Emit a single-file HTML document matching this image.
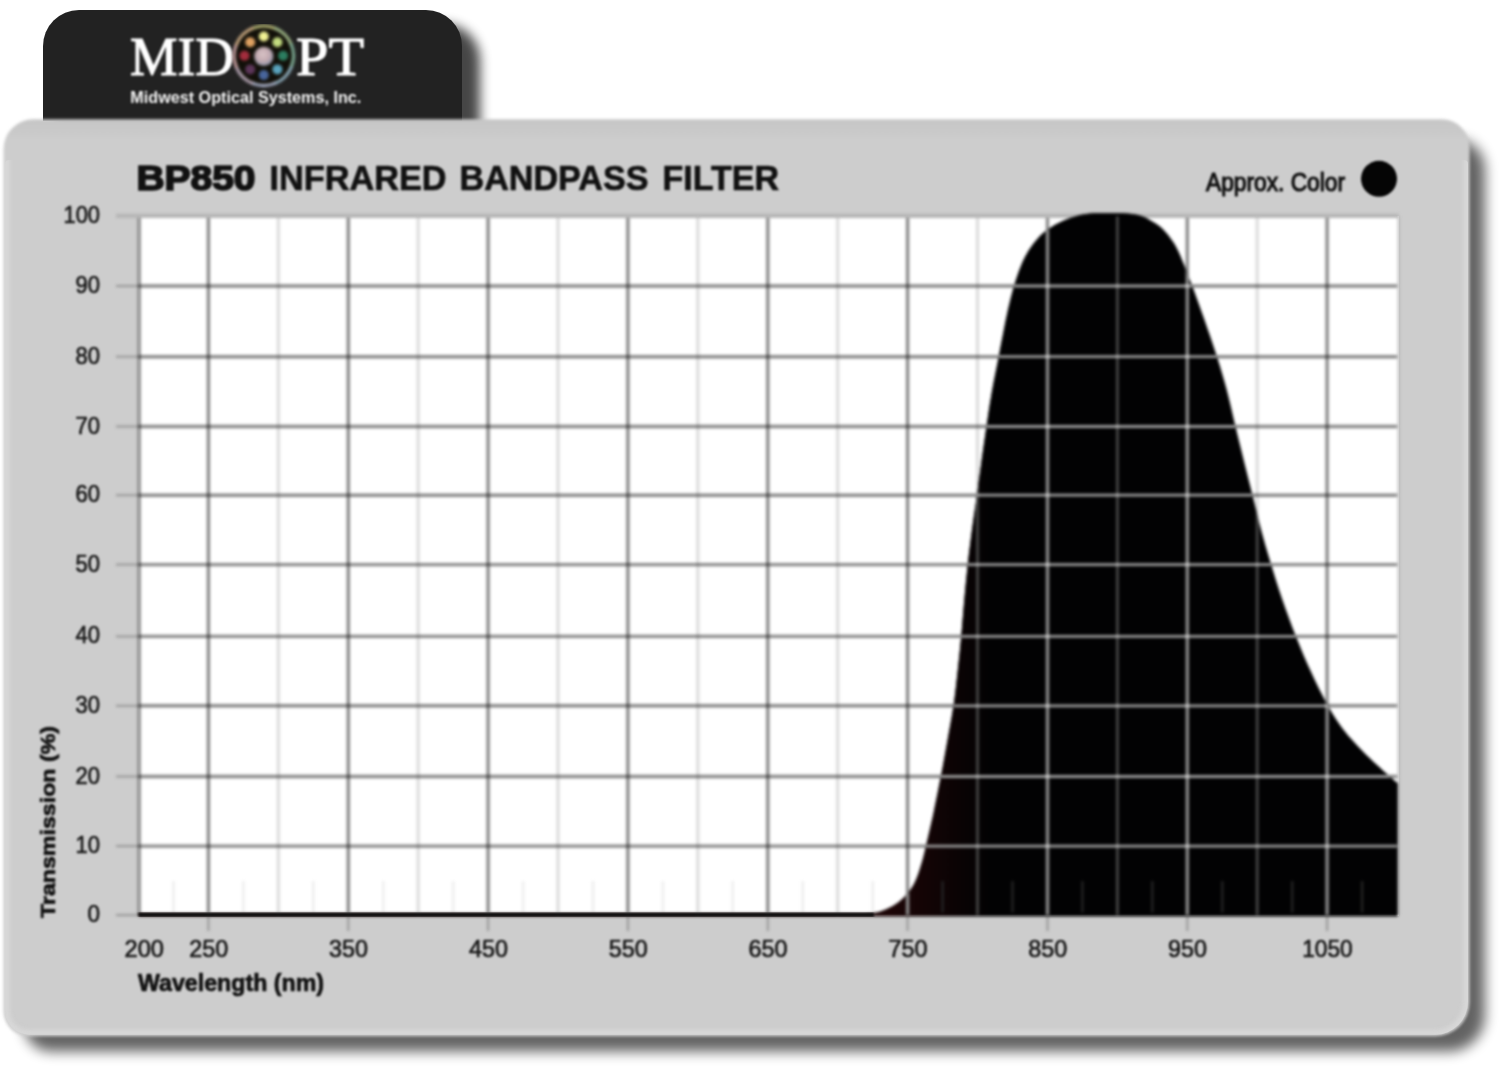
<!DOCTYPE html>
<html>
<head>
<meta charset="utf-8">
<title>BP850 Infrared Bandpass Filter</title>
<style>
  html, body { margin: 0; padding: 0; background: #ffffff; }
  body { width: 1500px; height: 1078px; overflow: hidden; position: relative;
         font-family: "Liberation Sans", sans-serif; }
  svg { position: absolute; left: 0; top: 0; display: block; }
  text { font-family: "Liberation Sans", sans-serif; }
  .serif { font-family: "Liberation Serif", serif; }
  .mul line { mix-blend-mode: multiply; }
  .scr line { mix-blend-mode: screen; }
</style>
</head>
<body>
<svg width="1500" height="1078" viewBox="0 0 1500 1078">
  <defs>
    <filter id="shadowCard" color-interpolation-filters="sRGB" x="-5%" y="-5%" width="110%" height="112%">
      <feGaussianBlur stdDeviation="6.5"/>
    </filter>
    <filter id="shadowTab" color-interpolation-filters="sRGB" x="-10%" y="-20%" width="120%" height="140%">
      <feGaussianBlur stdDeviation="6"/>
    </filter>
    <filter id="soft" color-interpolation-filters="sRGB" x="-2%" y="-2%" width="104%" height="104%">
      <feGaussianBlur stdDeviation="0.8"/>
    </filter>
    <filter id="soft2" color-interpolation-filters="sRGB" x="-5%" y="-20%" width="110%" height="140%">
      <feGaussianBlur stdDeviation="1.0"/>
    </filter>
    <filter id="softCard" color-interpolation-filters="sRGB" x="-2%" y="-2%" width="104%" height="104%">
      <feGaussianBlur stdDeviation="1.4"/>
    </filter>
    <linearGradient id="cardG" gradientUnits="userSpaceOnUse" x1="0" y1="119" x2="0" y2="140">
      <stop offset="0" stop-color="#c6c6c6"/>
      <stop offset="0.6" stop-color="#c9c9c9"/>
      <stop offset="1" stop-color="#cdcdcd"/>
    </linearGradient>
    <filter id="blurBevel" color-interpolation-filters="sRGB" x="-2%" y="-2%" width="104%" height="104%">
      <feGaussianBlur stdDeviation="2"/>
    </filter>
    <clipPath id="cardInner"><path d="M9.0,160.0 L1464.0,160.0 A4.0,4.0 0 0 1 1468.0,164.0 L1468.0,1001.7 A33.0,33.0 0 0 1 1435.0,1034.7 L29.0,1034.7 A24.0,24.0 0 0 1 5.0,1010.7 L5.0,164.0 A4.0,4.0 0 0 1 9.0,160.0 Z"/></clipPath>
    <filter id="softGrid" color-interpolation-filters="sRGB" x="-2%" y="-2%" width="104%" height="104%">
      <feGaussianBlur stdDeviation="1.35"/>
    </filter>
    <filter id="soft3" color-interpolation-filters="sRGB" x="-20%" y="-20%" width="140%" height="140%">
      <feGaussianBlur stdDeviation="1.2"/>
    </filter>
    <clipPath id="plotClip"><rect x="138.5" y="208" width="1259.1599999999999" height="708.6"/></clipPath>
    <clipPath id="curveClip"><path d="M138.5,916.6 L138.5,913.2 L862.0,913.4 C863.3,913.4 867.5,913.4 870.0,913.2 C872.5,913.0 874.6,912.9 877.0,912.4 C879.4,911.9 881.6,911.2 884.5,910.0 C887.4,908.8 891.4,907.0 894.5,905.0 C897.6,903.0 900.4,901.0 903.4,898.0 C906.4,895.0 909.9,890.8 912.3,887.0 C914.7,883.2 916.2,879.5 917.9,875.0 C919.6,870.5 921.2,864.8 922.6,860.0 C924.0,855.2 924.8,851.2 926.0,846.0 C927.2,840.8 928.7,834.8 930.0,829.0 C931.3,823.2 932.2,819.7 934.0,811.0 C935.8,802.3 938.5,788.8 940.8,777.0 C943.1,765.2 945.5,751.8 947.6,740.0 C949.7,728.2 951.8,717.3 953.5,706.0 C955.2,694.7 956.3,683.5 957.6,672.0 C958.9,660.5 960.1,649.0 961.2,637.0 C962.3,625.0 963.2,612.2 964.3,600.0 C965.4,587.8 966.5,575.7 967.8,564.0 C969.1,552.3 970.5,541.5 972.0,530.0 C973.5,518.5 975.4,506.7 977.0,495.0 C978.6,483.3 980.1,471.4 981.7,460.0 C983.3,448.6 984.9,437.3 986.5,426.5 C988.1,415.7 989.4,406.6 991.4,395.0 C993.4,383.4 996.7,367.4 998.7,357.0 C1000.7,346.6 1001.8,340.4 1003.4,332.4 C1005.0,324.4 1006.4,316.7 1008.2,309.0 C1010.0,301.3 1012.0,293.1 1014.1,286.0 C1016.2,278.9 1018.5,272.1 1020.9,266.2 C1023.3,260.3 1026.0,255.1 1028.7,250.6 C1031.5,246.1 1034.2,242.5 1037.4,238.9 C1040.6,235.3 1044.0,232.1 1048.1,229.2 C1052.2,226.3 1057.2,223.5 1061.8,221.4 C1066.3,219.3 1071.0,217.8 1075.4,216.5 C1079.8,215.2 1083.9,214.4 1088.0,213.8 C1092.1,213.2 1095.5,213.3 1100.0,213.2 C1104.5,213.1 1110.0,213.1 1115.0,213.2 C1120.0,213.3 1125.4,213.2 1130.0,213.8 C1134.6,214.4 1138.7,215.2 1142.4,216.5 C1146.1,217.8 1148.6,219.4 1152.0,221.5 C1155.4,223.6 1159.2,225.6 1162.8,229.2 C1166.4,232.8 1170.4,237.9 1173.5,242.8 C1176.6,247.7 1178.2,251.1 1181.3,258.4 C1184.4,265.7 1188.5,276.4 1192.3,286.5 C1196.1,296.6 1199.9,307.3 1204.0,319.0 C1208.1,330.7 1213.0,345.0 1216.8,356.8 C1220.6,368.6 1223.5,378.4 1226.6,390.0 C1229.7,401.6 1232.5,414.8 1235.3,426.5 C1238.1,438.2 1240.7,448.6 1243.5,460.0 C1246.3,471.4 1249.4,483.3 1252.3,495.0 C1255.2,506.7 1257.9,518.5 1261.0,530.0 C1264.1,541.5 1267.2,552.3 1270.8,564.0 C1274.3,575.7 1278.2,588.0 1282.3,600.0 C1286.4,612.0 1291.0,624.3 1295.6,636.0 C1300.2,647.7 1304.6,658.3 1310.0,670.0 C1315.4,681.7 1322.3,696.0 1327.9,706.0 C1333.5,716.0 1337.9,722.7 1343.5,730.0 C1349.1,737.3 1355.8,744.2 1361.3,750.0 C1366.8,755.8 1372.2,760.7 1376.8,765.0 C1381.4,769.3 1385.5,772.9 1389.0,776.0 C1392.5,779.1 1396.2,782.2 1397.7,783.5 L1397.7,916.6 Z"/></clipPath>
    <linearGradient id="redTint" gradientUnits="userSpaceOnUse" x1="890" y1="0" x2="990" y2="0">
      <stop offset="0" stop-color="#1c0506"/>
      <stop offset="1" stop-color="#020203"/>
    </linearGradient>
    <linearGradient id="cardEdgeL" x1="0" y1="0" x2="1" y2="0">
      <stop offset="0" stop-color="#dcdcdc"/>
      <stop offset="1" stop-color="#cccccc"/>
    </linearGradient>
    <radialGradient id="hub" cx="0.45" cy="0.4" r="0.6">
      <stop offset="0" stop-color="#d9c4c6"/>
      <stop offset="0.6" stop-color="#c2a9b0"/>
      <stop offset="1" stop-color="#8f96ad"/>
    </radialGradient>
    <linearGradient id="ring" x1="0" y1="0" x2="1" y2="1">
      <stop offset="0" stop-color="#d9b48e"/>
      <stop offset="0.3" stop-color="#c4c486"/>
      <stop offset="0.55" stop-color="#a6c4ae"/>
      <stop offset="0.8" stop-color="#b4c0d6"/>
      <stop offset="1" stop-color="#cbb2be"/>
    </linearGradient>
  </defs>

  <!-- logo tab shadow + tab -->
  <path d="M54,132 L54,60 A36,36 0 0 1 90,24 L444,24 A36,36 0 0 1 480,60 L480,132 Z" fill="#000" opacity="0.72" filter="url(#shadowTab)"/>
  <path d="M43,121 L43,46 A36,36 0 0 1 79,10 L426,10 A36,36 0 0 1 462,46 L462,121 Z" fill="#222222"/>

  <!-- card shadow + card -->
  <path d="M54.0,139.0 L1455.0,139.0 A30.0,30.0 0 0 1 1485.0,169.0 L1485.0,1015.5 A36.0,36.0 0 0 1 1449.0,1051.5 L51.0,1051.5 A27.0,27.0 0 0 1 24.0,1024.5 L24.0,169.0 A30.0,30.0 0 0 1 54.0,139.0 Z" fill="#000" opacity="0.61" filter="url(#shadowCard)"/>
    <path d="M33.5,119.2 L1441.5,119.2 A28.0,28.0 0 0 1 1469.5,147.2 L1469.5,1002.2 A34.0,34.0 0 0 1 1435.5,1036.2 L28.5,1036.2 A25.0,25.0 0 0 1 3.5,1011.2 L3.5,149.2 A30.0,30.0 0 0 1 33.5,119.2 Z" fill="url(#cardG)" filter="url(#softCard)"/>
  <g clip-path="url(#cardInner)">
    <path d="M33.5,119.2 L1441.5,119.2 A28.0,28.0 0 0 1 1469.5,147.2 L1469.5,1002.2 A34.0,34.0 0 0 1 1435.5,1036.2 L28.5,1036.2 A25.0,25.0 0 0 1 3.5,1011.2 L3.5,149.2 A30.0,30.0 0 0 1 33.5,119.2 Z" fill="none" stroke="#d7d7d7" stroke-width="13" filter="url(#blurBevel)"/>
  </g>

  <!-- logo -->
  <g filter="url(#soft)">
    <text class="serif" x="130" y="75" font-size="55" fill="#ffffff" stroke="#ffffff" stroke-width="1.1" textLength="104" lengthAdjust="spacingAndGlyphs">MID</text>
    <text class="serif" x="296" y="75" font-size="55" fill="#ffffff" stroke="#ffffff" stroke-width="1.1" textLength="68" lengthAdjust="spacingAndGlyphs">PT</text>
    <g filter="url(#soft3)">
      <circle cx="263.8" cy="55.8" r="29.6" fill="#121009"/>
      <g fill="none" stroke-width="3.1">
      <path d="M251.72,28.67 A29.7,29.7 0 0 1 275.88,28.67" stroke="#b4b474"/>
      <path d="M274.44,28.07 A29.7,29.7 0 0 1 291.53,45.16" stroke="#a0b888"/>
      <path d="M290.93,43.72 A29.7,29.7 0 0 1 290.93,67.88" stroke="#80b098"/>
      <path d="M291.53,66.44 A29.7,29.7 0 0 1 274.44,83.53" stroke="#90b0c0"/>
      <path d="M275.88,82.93 A29.7,29.7 0 0 1 251.72,82.93" stroke="#a8b0c8"/>
      <path d="M253.16,83.53 A29.7,29.7 0 0 1 236.07,66.44" stroke="#b8a8b8"/>
      <path d="M236.67,67.88 A29.7,29.7 0 0 1 236.67,43.72" stroke="#c8a0a0"/>
      <path d="M236.07,45.16 A29.7,29.7 0 0 1 253.16,28.07" stroke="#c8a880"/>
      </g>
      <circle cx="263.8" cy="36.5" r="5.0" fill="#f2f294"/>
      <circle cx="277.4" cy="42.2" r="5.0" fill="#c4dc80"/>
      <circle cx="283.1" cy="55.8" r="5.0" fill="#2c7e60"/>
      <circle cx="277.4" cy="69.4" r="5.0" fill="#5aa4be"/>
      <circle cx="263.8" cy="75.1" r="5.0" fill="#48659c"/>
      <circle cx="250.2" cy="69.4" r="5.0" fill="#5c3659"/>
      <circle cx="244.5" cy="55.8" r="5.0" fill="#a32d3d"/>
      <circle cx="250.2" cy="42.2" r="5.0" fill="#e0a262"/>
      <circle cx="263.8" cy="56.4" r="9.6" fill="url(#hub)"/>
    </g>
    <text x="130.3" y="102.7" font-size="15.8" font-weight="bold" fill="#f4f4f4" textLength="231" lengthAdjust="spacingAndGlyphs">Midwest Optical Systems, Inc.</text>
  </g>

  <!-- plot background -->
  <rect x="138.5" y="216.2" width="1260.36" height="699.9000000000001" fill="#ffffff"/>

  <g filter="url(#softGrid)">
    <!-- tick marks outside plot -->
    <g stroke="#979797" stroke-width="2.0">
      <line x1="116" y1="216.2" x2="138.5" y2="216.2"/>
      <line x1="116" y1="286.0" x2="138.5" y2="286.0"/>
      <line x1="116" y1="356.7" x2="138.5" y2="356.7"/>
      <line x1="116" y1="426.5" x2="138.5" y2="426.5"/>
      <line x1="116" y1="495.2" x2="138.5" y2="495.2"/>
      <line x1="116" y1="564.6" x2="138.5" y2="564.6"/>
      <line x1="116" y1="636.4" x2="138.5" y2="636.4"/>
      <line x1="116" y1="705.8" x2="138.5" y2="705.8"/>
      <line x1="116" y1="776.5" x2="138.5" y2="776.5"/>
      <line x1="116" y1="846.1" x2="138.5" y2="846.1"/>
      <line x1="116" y1="915.1" x2="138.5" y2="915.1"/>
      <line x1="208.4" y1="915.1" x2="208.4" y2="931"/>
      <line x1="348.3" y1="915.1" x2="348.3" y2="931"/>
      <line x1="488.1" y1="915.1" x2="488.1" y2="931"/>
      <line x1="627.9" y1="915.1" x2="627.9" y2="931"/>
      <line x1="767.8" y1="915.1" x2="767.8" y2="931"/>
      <line x1="907.6" y1="915.1" x2="907.6" y2="931"/>
      <line x1="1047.5" y1="915.1" x2="1047.5" y2="931"/>
      <line x1="1187.3" y1="915.1" x2="1187.3" y2="931"/>
      <line x1="1327.1" y1="915.1" x2="1327.1" y2="931"/>
    </g>
    <!-- grid on white -->
    <g class="mul">
      <g stroke-width="2.6" stroke="#eeeeee">
        <line x1="173.5" y1="881.1" x2="173.5" y2="912.6"/>
        <line x1="243.4" y1="881.1" x2="243.4" y2="912.6"/>
        <line x1="313.3" y1="881.1" x2="313.3" y2="912.6"/>
        <line x1="383.2" y1="881.1" x2="383.2" y2="912.6"/>
        <line x1="453.1" y1="881.1" x2="453.1" y2="912.6"/>
        <line x1="523.1" y1="881.1" x2="523.1" y2="912.6"/>
        <line x1="593.0" y1="881.1" x2="593.0" y2="912.6"/>
        <line x1="662.9" y1="881.1" x2="662.9" y2="912.6"/>
        <line x1="732.8" y1="881.1" x2="732.8" y2="912.6"/>
        <line x1="802.7" y1="881.1" x2="802.7" y2="912.6"/>
        <line x1="872.7" y1="881.1" x2="872.7" y2="912.6"/>
        <line x1="942.6" y1="881.1" x2="942.6" y2="912.6"/>
        <line x1="1012.5" y1="881.1" x2="1012.5" y2="912.6"/>
        <line x1="1082.4" y1="881.1" x2="1082.4" y2="912.6"/>
        <line x1="1152.3" y1="881.1" x2="1152.3" y2="912.6"/>
        <line x1="1222.3" y1="881.1" x2="1222.3" y2="912.6"/>
        <line x1="1292.2" y1="881.1" x2="1292.2" y2="912.6"/>
        <line x1="1362.1" y1="881.1" x2="1362.1" y2="912.6"/>
      </g>
      <g stroke-width="3.2" stroke="#dcdcdc">
        <line x1="278.3" y1="216.2" x2="278.3" y2="915.1"/>
        <line x1="418.2" y1="216.2" x2="418.2" y2="915.1"/>
        <line x1="558.0" y1="216.2" x2="558.0" y2="915.1"/>
        <line x1="697.9" y1="216.2" x2="697.9" y2="915.1"/>
        <line x1="837.7" y1="216.2" x2="837.7" y2="915.1"/>
        <line x1="977.5" y1="216.2" x2="977.5" y2="915.1"/>
        <line x1="1117.4" y1="216.2" x2="1117.4" y2="915.1"/>
        <line x1="1257.2" y1="216.2" x2="1257.2" y2="915.1"/>
      </g>
      <g stroke-width="3.4" stroke="#8a8a8a">
        <line x1="208.4" y1="216.2" x2="208.4" y2="915.1"/>
        <line x1="348.3" y1="216.2" x2="348.3" y2="915.1"/>
        <line x1="488.1" y1="216.2" x2="488.1" y2="915.1"/>
        <line x1="627.9" y1="216.2" x2="627.9" y2="915.1"/>
        <line x1="767.8" y1="216.2" x2="767.8" y2="915.1"/>
        <line x1="907.6" y1="216.2" x2="907.6" y2="915.1"/>
        <line x1="1047.5" y1="216.2" x2="1047.5" y2="915.1"/>
        <line x1="1187.3" y1="216.2" x2="1187.3" y2="915.1"/>
        <line x1="1327.1" y1="216.2" x2="1327.1" y2="915.1"/>
        <line x1="138.5" y1="286.0" x2="1397.1" y2="286.0"/>
        <line x1="138.5" y1="356.7" x2="1397.1" y2="356.7"/>
        <line x1="138.5" y1="426.5" x2="1397.1" y2="426.5"/>
        <line x1="138.5" y1="495.2" x2="1397.1" y2="495.2"/>
        <line x1="138.5" y1="564.6" x2="1397.1" y2="564.6"/>
        <line x1="138.5" y1="636.4" x2="1397.1" y2="636.4"/>
        <line x1="138.5" y1="705.8" x2="1397.1" y2="705.8"/>
        <line x1="138.5" y1="776.5" x2="1397.1" y2="776.5"/>
        <line x1="138.5" y1="846.1" x2="1397.1" y2="846.1"/>
        <line x1="139.1" y1="216.2" x2="139.1" y2="915.1"/>
      </g>
      <line x1="1398.6599999999999" y1="216.2" x2="1398.6599999999999" y2="915.1" stroke="#b8b8b8" stroke-width="2"/>
    </g>
    <line x1="116" y1="215.89999999999998" x2="1398.56" y2="215.89999999999998" stroke="#b6b6b6" stroke-width="4.4"/>
    <!-- filled curve -->
    <g clip-path="url(#plotClip)">
      <path d="M138.5,916.6 L138.5,913.2 L862.0,913.4 C863.3,913.4 867.5,913.4 870.0,913.2 C872.5,913.0 874.6,912.9 877.0,912.4 C879.4,911.9 881.6,911.2 884.5,910.0 C887.4,908.8 891.4,907.0 894.5,905.0 C897.6,903.0 900.4,901.0 903.4,898.0 C906.4,895.0 909.9,890.8 912.3,887.0 C914.7,883.2 916.2,879.5 917.9,875.0 C919.6,870.5 921.2,864.8 922.6,860.0 C924.0,855.2 924.8,851.2 926.0,846.0 C927.2,840.8 928.7,834.8 930.0,829.0 C931.3,823.2 932.2,819.7 934.0,811.0 C935.8,802.3 938.5,788.8 940.8,777.0 C943.1,765.2 945.5,751.8 947.6,740.0 C949.7,728.2 951.8,717.3 953.5,706.0 C955.2,694.7 956.3,683.5 957.6,672.0 C958.9,660.5 960.1,649.0 961.2,637.0 C962.3,625.0 963.2,612.2 964.3,600.0 C965.4,587.8 966.5,575.7 967.8,564.0 C969.1,552.3 970.5,541.5 972.0,530.0 C973.5,518.5 975.4,506.7 977.0,495.0 C978.6,483.3 980.1,471.4 981.7,460.0 C983.3,448.6 984.9,437.3 986.5,426.5 C988.1,415.7 989.4,406.6 991.4,395.0 C993.4,383.4 996.7,367.4 998.7,357.0 C1000.7,346.6 1001.8,340.4 1003.4,332.4 C1005.0,324.4 1006.4,316.7 1008.2,309.0 C1010.0,301.3 1012.0,293.1 1014.1,286.0 C1016.2,278.9 1018.5,272.1 1020.9,266.2 C1023.3,260.3 1026.0,255.1 1028.7,250.6 C1031.5,246.1 1034.2,242.5 1037.4,238.9 C1040.6,235.3 1044.0,232.1 1048.1,229.2 C1052.2,226.3 1057.2,223.5 1061.8,221.4 C1066.3,219.3 1071.0,217.8 1075.4,216.5 C1079.8,215.2 1083.9,214.4 1088.0,213.8 C1092.1,213.2 1095.5,213.3 1100.0,213.2 C1104.5,213.1 1110.0,213.1 1115.0,213.2 C1120.0,213.3 1125.4,213.2 1130.0,213.8 C1134.6,214.4 1138.7,215.2 1142.4,216.5 C1146.1,217.8 1148.6,219.4 1152.0,221.5 C1155.4,223.6 1159.2,225.6 1162.8,229.2 C1166.4,232.8 1170.4,237.9 1173.5,242.8 C1176.6,247.7 1178.2,251.1 1181.3,258.4 C1184.4,265.7 1188.5,276.4 1192.3,286.5 C1196.1,296.6 1199.9,307.3 1204.0,319.0 C1208.1,330.7 1213.0,345.0 1216.8,356.8 C1220.6,368.6 1223.5,378.4 1226.6,390.0 C1229.7,401.6 1232.5,414.8 1235.3,426.5 C1238.1,438.2 1240.7,448.6 1243.5,460.0 C1246.3,471.4 1249.4,483.3 1252.3,495.0 C1255.2,506.7 1257.9,518.5 1261.0,530.0 C1264.1,541.5 1267.2,552.3 1270.8,564.0 C1274.3,575.7 1278.2,588.0 1282.3,600.0 C1286.4,612.0 1291.0,624.3 1295.6,636.0 C1300.2,647.7 1304.6,658.3 1310.0,670.0 C1315.4,681.7 1322.3,696.0 1327.9,706.0 C1333.5,716.0 1337.9,722.7 1343.5,730.0 C1349.1,737.3 1355.8,744.2 1361.3,750.0 C1366.8,755.8 1372.2,760.7 1376.8,765.0 C1381.4,769.3 1385.5,772.9 1389.0,776.0 C1392.5,779.1 1396.2,782.2 1397.7,783.5 L1397.7,916.6 Z" fill="#020203"/>
      <path d="M138.5,916.6 L138.5,913.2 L862.0,913.4 C863.3,913.4 867.5,913.4 870.0,913.2 C872.5,913.0 874.6,912.9 877.0,912.4 C879.4,911.9 881.6,911.2 884.5,910.0 C887.4,908.8 891.4,907.0 894.5,905.0 C897.6,903.0 900.4,901.0 903.4,898.0 C906.4,895.0 909.9,890.8 912.3,887.0 C914.7,883.2 916.2,879.5 917.9,875.0 C919.6,870.5 921.2,864.8 922.6,860.0 C924.0,855.2 924.8,851.2 926.0,846.0 C927.2,840.8 928.7,834.8 930.0,829.0 C931.3,823.2 932.2,819.7 934.0,811.0 C935.8,802.3 938.5,788.8 940.8,777.0 C943.1,765.2 945.5,751.8 947.6,740.0 C949.7,728.2 951.8,717.3 953.5,706.0 C955.2,694.7 956.3,683.5 957.6,672.0 C958.9,660.5 960.1,649.0 961.2,637.0 C962.3,625.0 963.2,612.2 964.3,600.0 C965.4,587.8 966.5,575.7 967.8,564.0 C969.1,552.3 970.5,541.5 972.0,530.0 C973.5,518.5 975.4,506.7 977.0,495.0 C978.6,483.3 980.1,471.4 981.7,460.0 C983.3,448.6 984.9,437.3 986.5,426.5 C988.1,415.7 989.4,406.6 991.4,395.0 C993.4,383.4 996.7,367.4 998.7,357.0 C1000.7,346.6 1001.8,340.4 1003.4,332.4 C1005.0,324.4 1006.4,316.7 1008.2,309.0 C1010.0,301.3 1012.0,293.1 1014.1,286.0 C1016.2,278.9 1018.5,272.1 1020.9,266.2 C1023.3,260.3 1026.0,255.1 1028.7,250.6 C1031.5,246.1 1034.2,242.5 1037.4,238.9 C1040.6,235.3 1044.0,232.1 1048.1,229.2 C1052.2,226.3 1057.2,223.5 1061.8,221.4 C1066.3,219.3 1071.0,217.8 1075.4,216.5 C1079.8,215.2 1083.9,214.4 1088.0,213.8 C1092.1,213.2 1095.5,213.3 1100.0,213.2 C1104.5,213.1 1110.0,213.1 1115.0,213.2 C1120.0,213.3 1125.4,213.2 1130.0,213.8 C1134.6,214.4 1138.7,215.2 1142.4,216.5 C1146.1,217.8 1148.6,219.4 1152.0,221.5 C1155.4,223.6 1159.2,225.6 1162.8,229.2 C1166.4,232.8 1170.4,237.9 1173.5,242.8 C1176.6,247.7 1178.2,251.1 1181.3,258.4 C1184.4,265.7 1188.5,276.4 1192.3,286.5 C1196.1,296.6 1199.9,307.3 1204.0,319.0 C1208.1,330.7 1213.0,345.0 1216.8,356.8 C1220.6,368.6 1223.5,378.4 1226.6,390.0 C1229.7,401.6 1232.5,414.8 1235.3,426.5 C1238.1,438.2 1240.7,448.6 1243.5,460.0 C1246.3,471.4 1249.4,483.3 1252.3,495.0 C1255.2,506.7 1257.9,518.5 1261.0,530.0 C1264.1,541.5 1267.2,552.3 1270.8,564.0 C1274.3,575.7 1278.2,588.0 1282.3,600.0 C1286.4,612.0 1291.0,624.3 1295.6,636.0 C1300.2,647.7 1304.6,658.3 1310.0,670.0 C1315.4,681.7 1322.3,696.0 1327.9,706.0 C1333.5,716.0 1337.9,722.7 1343.5,730.0 C1349.1,737.3 1355.8,744.2 1361.3,750.0 C1366.8,755.8 1372.2,760.7 1376.8,765.0 C1381.4,769.3 1385.5,772.9 1389.0,776.0 C1392.5,779.1 1396.2,782.2 1397.7,783.5 L1397.7,916.6 Z" fill="url(#redTint)"/>
    </g>
    <!-- grid on black -->
    <g clip-path="url(#curveClip)" class="scr">
      <g stroke-width="2.4" stroke="#242424">
        <line x1="173.5" y1="881.1" x2="173.5" y2="912.6"/>
        <line x1="243.4" y1="881.1" x2="243.4" y2="912.6"/>
        <line x1="313.3" y1="881.1" x2="313.3" y2="912.6"/>
        <line x1="383.2" y1="881.1" x2="383.2" y2="912.6"/>
        <line x1="453.1" y1="881.1" x2="453.1" y2="912.6"/>
        <line x1="523.1" y1="881.1" x2="523.1" y2="912.6"/>
        <line x1="593.0" y1="881.1" x2="593.0" y2="912.6"/>
        <line x1="662.9" y1="881.1" x2="662.9" y2="912.6"/>
        <line x1="732.8" y1="881.1" x2="732.8" y2="912.6"/>
        <line x1="802.7" y1="881.1" x2="802.7" y2="912.6"/>
        <line x1="872.7" y1="881.1" x2="872.7" y2="912.6"/>
        <line x1="942.6" y1="881.1" x2="942.6" y2="912.6"/>
        <line x1="1012.5" y1="881.1" x2="1012.5" y2="912.6"/>
        <line x1="1082.4" y1="881.1" x2="1082.4" y2="912.6"/>
        <line x1="1152.3" y1="881.1" x2="1152.3" y2="912.6"/>
        <line x1="1222.3" y1="881.1" x2="1222.3" y2="912.6"/>
        <line x1="1292.2" y1="881.1" x2="1292.2" y2="912.6"/>
        <line x1="1362.1" y1="881.1" x2="1362.1" y2="912.6"/>
      </g>
      <g stroke-width="2.8" stroke="#464646">
        <line x1="278.3" y1="216.2" x2="278.3" y2="915.1"/>
        <line x1="418.2" y1="216.2" x2="418.2" y2="915.1"/>
        <line x1="558.0" y1="216.2" x2="558.0" y2="915.1"/>
        <line x1="697.9" y1="216.2" x2="697.9" y2="915.1"/>
        <line x1="837.7" y1="216.2" x2="837.7" y2="915.1"/>
        <line x1="977.5" y1="216.2" x2="977.5" y2="915.1"/>
        <line x1="1117.4" y1="216.2" x2="1117.4" y2="915.1"/>
        <line x1="1257.2" y1="216.2" x2="1257.2" y2="915.1"/>
      </g>
      <g stroke-width="3.4" stroke="#8a8a8a">
        <line x1="208.4" y1="216.2" x2="208.4" y2="915.1"/>
        <line x1="348.3" y1="216.2" x2="348.3" y2="915.1"/>
        <line x1="488.1" y1="216.2" x2="488.1" y2="915.1"/>
        <line x1="627.9" y1="216.2" x2="627.9" y2="915.1"/>
        <line x1="767.8" y1="216.2" x2="767.8" y2="915.1"/>
        <line x1="907.6" y1="216.2" x2="907.6" y2="915.1"/>
        <line x1="1047.5" y1="216.2" x2="1047.5" y2="915.1"/>
        <line x1="1187.3" y1="216.2" x2="1187.3" y2="915.1"/>
        <line x1="1327.1" y1="216.2" x2="1327.1" y2="915.1"/>
      </g>
      <g stroke-width="2.8" stroke="#9c9c9c">
        <line x1="138.5" y1="286.0" x2="1397.1" y2="286.0"/>
        <line x1="138.5" y1="356.7" x2="1397.1" y2="356.7"/>
        <line x1="138.5" y1="426.5" x2="1397.1" y2="426.5"/>
        <line x1="138.5" y1="495.2" x2="1397.1" y2="495.2"/>
        <line x1="138.5" y1="564.6" x2="1397.1" y2="564.6"/>
        <line x1="138.5" y1="636.4" x2="1397.1" y2="636.4"/>
        <line x1="138.5" y1="705.8" x2="1397.1" y2="705.8"/>
        <line x1="138.5" y1="776.5" x2="1397.1" y2="776.5"/>
        <line x1="138.5" y1="846.1" x2="1397.1" y2="846.1"/>
      </g>
    </g>
  </g>
  <!-- baseline -->
  <g filter="url(#soft)">
    <rect x="138.5" y="912.8" width="735.5" height="3.9" fill="#0c0c0c"/>
  </g>

  <!-- text labels -->
  <g filter="url(#soft)" fill="#181818">
    <g font-size="23.5" stroke="#181818" stroke-width="0.65">
      <text x="63.5" y="223.2" textLength="36.5" lengthAdjust="spacingAndGlyphs">100</text>
      <text x="75.5" y="293.0" textLength="24.5" lengthAdjust="spacingAndGlyphs">90</text>
      <text x="75.5" y="363.7" textLength="24.5" lengthAdjust="spacingAndGlyphs">80</text>
      <text x="75.5" y="433.5" textLength="24.5" lengthAdjust="spacingAndGlyphs">70</text>
      <text x="75.5" y="502.2" textLength="24.5" lengthAdjust="spacingAndGlyphs">60</text>
      <text x="75.5" y="571.6" textLength="24.5" lengthAdjust="spacingAndGlyphs">50</text>
      <text x="75.5" y="643.4" textLength="24.5" lengthAdjust="spacingAndGlyphs">40</text>
      <text x="75.5" y="712.8" textLength="24.5" lengthAdjust="spacingAndGlyphs">30</text>
      <text x="75.5" y="783.5" textLength="24.5" lengthAdjust="spacingAndGlyphs">20</text>
      <text x="75.5" y="853.1" textLength="24.5" lengthAdjust="spacingAndGlyphs">10</text>
      <text x="87.5" y="922.1" textLength="12.5" lengthAdjust="spacingAndGlyphs">0</text>
    </g>
    <g font-size="23.5" stroke="#181818" stroke-width="0.65">
      <text x="124.5" y="957" textLength="39.5" lengthAdjust="spacingAndGlyphs">200</text>
      <text x="189.2" y="957" textLength="39.0" lengthAdjust="spacingAndGlyphs">250</text>
      <text x="329.1" y="957" textLength="39.0" lengthAdjust="spacingAndGlyphs">350</text>
      <text x="468.9" y="957" textLength="39.0" lengthAdjust="spacingAndGlyphs">450</text>
      <text x="608.7" y="957" textLength="39.0" lengthAdjust="spacingAndGlyphs">550</text>
      <text x="748.6" y="957" textLength="39.0" lengthAdjust="spacingAndGlyphs">650</text>
      <text x="888.4" y="957" textLength="39.0" lengthAdjust="spacingAndGlyphs">750</text>
      <text x="1028.3" y="957" textLength="39.0" lengthAdjust="spacingAndGlyphs">850</text>
      <text x="1168.1" y="957" textLength="39.0" lengthAdjust="spacingAndGlyphs">950</text>
      <text x="1302.2" y="957" textLength="50.5" lengthAdjust="spacingAndGlyphs">1050</text>
    </g>
    <g font-size="35.5" font-weight="bold" fill="#111111" stroke="#111111" stroke-width="0.7">
      <text x="136.5" y="190.3" stroke-width="1.7" textLength="119" lengthAdjust="spacingAndGlyphs">BP850</text>
      <text x="269.5" y="190.3" textLength="177" lengthAdjust="spacingAndGlyphs">INFRARED</text>
      <text x="459.5" y="190.3" textLength="189" lengthAdjust="spacingAndGlyphs">BANDPASS</text>
      <text x="662.5" y="190.3" textLength="116.5" lengthAdjust="spacingAndGlyphs">FILTER</text>
    </g>
    <text x="138" y="991" font-size="23" font-weight="bold" fill="#121212" stroke="#121212" stroke-width="0.7" textLength="186" lengthAdjust="spacingAndGlyphs">Wavelength (nm)</text>
    <text transform="translate(55,918) rotate(-90)" font-size="21" font-weight="bold" fill="#121212" stroke="#121212" stroke-width="0.7" textLength="192" lengthAdjust="spacingAndGlyphs">Transmission (%)</text>
    <text x="1206" y="190.7" font-size="25.5" fill="#111" stroke="#111" stroke-width="1.15" textLength="139" lengthAdjust="spacingAndGlyphs">Approx. Color</text>
    <circle cx="1379" cy="178.8" r="18" fill="#050505"/>
  </g>
</svg>
</body>
</html>
